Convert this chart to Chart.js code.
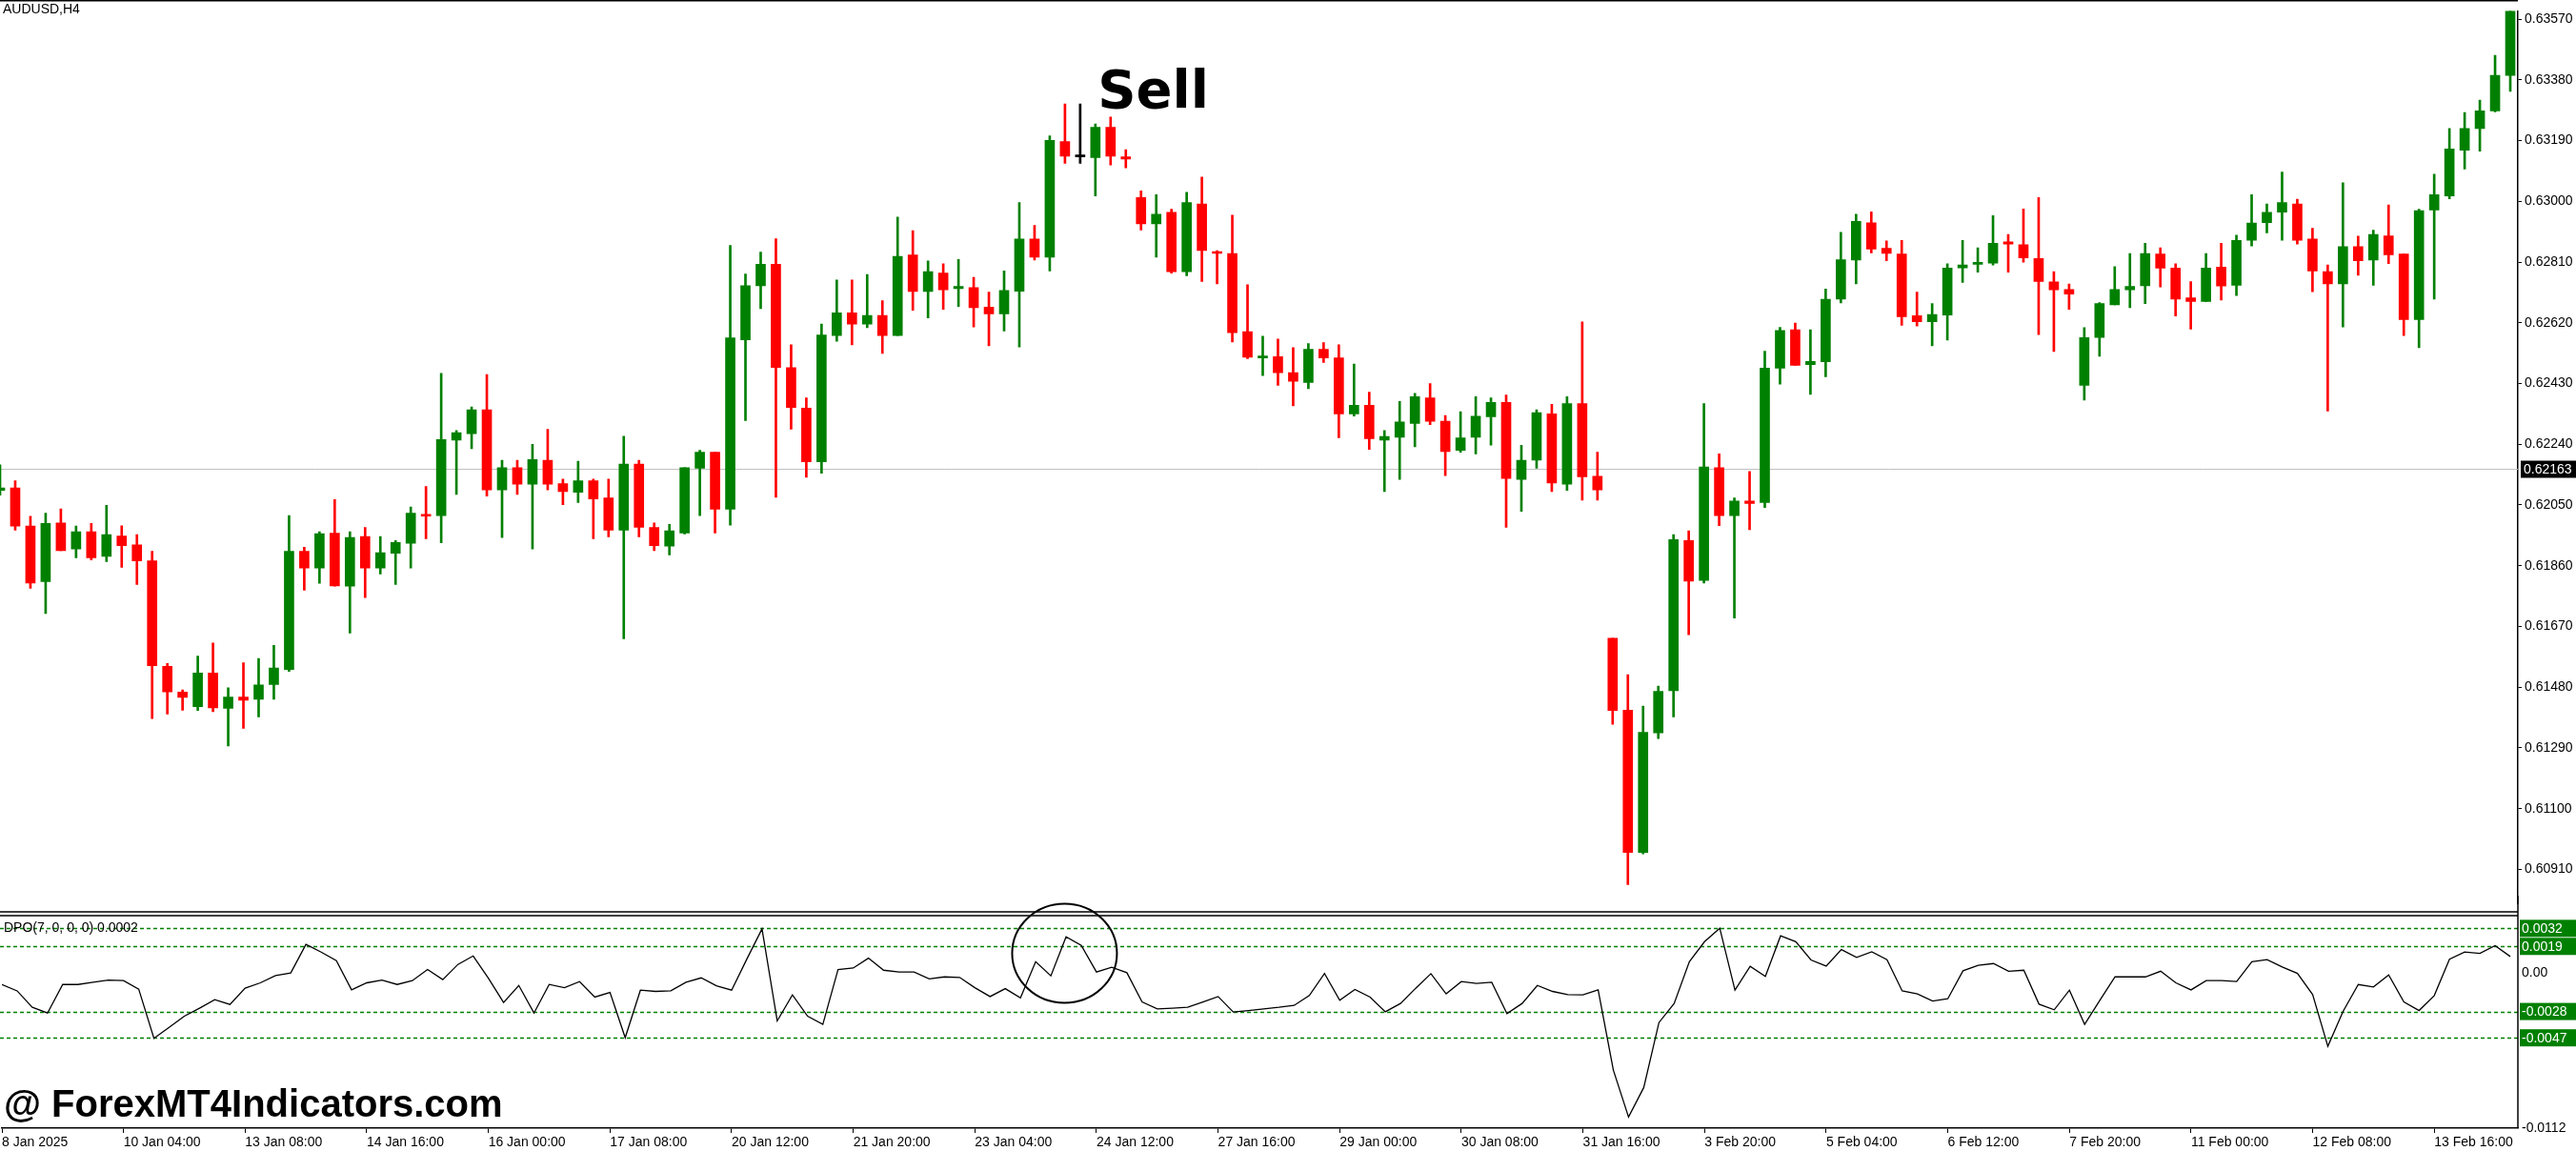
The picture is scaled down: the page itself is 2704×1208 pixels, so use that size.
<!DOCTYPE html>
<html><head><meta charset="utf-8">
<script src="https://cdn.jsdelivr.net/npm/chart.js@4/dist/chart.umd.min.js"></script>
<style>
html,body{margin:0;padding:0;background:#fff;width:2704px;height:1208px;overflow:hidden}
#p{position:absolute;left:0;top:0;width:2704px;height:960px}
#d{position:absolute;left:0;top:940px;width:2704px;height:268px}
</style></head><body>
<div id="p"><canvas id="cp"></canvas></div>
<div id="d"><canvas id="cd"></canvas></div>
<script>
const opens=[0.62096,0.62103,0.61984,0.61810,0.61994,0.61912,0.61966,0.61889,0.61953,0.61925,0.61875,0.61545,0.61465,0.61419,0.61524,0.61414,0.61449,0.61442,0.61488,0.61535,0.61905,0.61853,0.61962,0.61796,0.61951,0.61853,0.61899,0.61930,0.62021,0.62017,0.62253,0.62273,0.62348,0.62097,0.62167,0.62115,0.62190,0.62117,0.62090,0.62126,0.62072,0.61971,0.62178,0.61980,0.61921,0.61962,0.62165,0.62215,0.62037,0.62567,0.62736,0.62803,0.62480,0.62353,0.62185,0.62580,0.62651,0.62616,0.62643,0.62580,0.62832,0.62718,0.62776,0.62727,0.62730,0.62669,0.62648,0.62719,0.62882,0.62825,0.63187,0.63139,0.63137,0.63232,0.63139,0.63012,0.62930,0.62966,0.62780,0.62992,0.62843,0.62837,0.62592,0.62510,0.62514,0.62464,0.62433,0.62537,0.62510,0.62335,0.62362,0.62253,0.62262,0.62305,0.62385,0.62312,0.62221,0.62262,0.62326,0.62371,0.62130,0.62190,0.62335,0.62115,0.62367,0.62140,0.61633,0.61408,0.60963,0.61337,0.61469,0.61939,0.61814,0.62167,0.62017,0.62062,0.62058,0.62478,0.62598,0.62489,0.62498,0.62694,0.62816,0.62933,0.62853,0.62835,0.62642,0.62623,0.62644,0.62792,0.62803,0.62807,0.62873,0.62864,0.62821,0.62748,0.62724,0.62424,0.62574,0.62676,0.62723,0.62736,0.62835,0.62791,0.62698,0.62687,0.62794,0.62737,0.62878,0.62933,0.62966,0.62992,0.62882,0.62780,0.62742,0.62858,0.62816,0.62892,0.62835,0.62630,0.62973,0.63017,0.63160,0.63228,0.63283,0.63394];
const highs=[0.62176,0.62126,0.62015,0.62024,0.62038,0.61984,0.61992,0.62049,0.61985,0.61957,0.61905,0.61554,0.61471,0.61577,0.61618,0.61478,0.61556,0.61570,0.61611,0.62017,0.61918,0.61966,0.62067,0.61966,0.61980,0.61951,0.61939,0.62044,0.62108,0.62462,0.62283,0.62357,0.62458,0.62190,0.62190,0.62240,0.62287,0.62131,0.62187,0.62131,0.62131,0.62265,0.62190,0.61994,0.61989,0.62167,0.62221,0.62215,0.62862,0.62773,0.62841,0.62883,0.62551,0.62385,0.62616,0.62754,0.62754,0.62771,0.62689,0.62951,0.62908,0.62814,0.62805,0.62818,0.62762,0.62716,0.62782,0.62996,0.62925,0.63205,0.63305,0.63305,0.63242,0.63264,0.63162,0.63033,0.63021,0.62975,0.63028,0.63076,0.62846,0.62957,0.62739,0.62578,0.62569,0.62542,0.62555,0.62558,0.62551,0.62491,0.62403,0.62283,0.62374,0.62399,0.62430,0.62330,0.62342,0.62389,0.62385,0.62394,0.62237,0.62348,0.62365,0.62389,0.62623,0.62215,0.61633,0.61519,0.61421,0.61483,0.61957,0.61969,0.62367,0.62210,0.62072,0.62155,0.62531,0.62606,0.62619,0.62598,0.62726,0.62903,0.62960,0.62967,0.62876,0.62878,0.62716,0.62680,0.62805,0.62878,0.62855,0.62955,0.62896,0.62976,0.63012,0.62780,0.62741,0.62605,0.62683,0.62796,0.62837,0.62869,0.62855,0.62805,0.62749,0.62837,0.62869,0.62894,0.63021,0.62992,0.63092,0.63007,0.62916,0.62801,0.63058,0.62891,0.62910,0.62989,0.62835,0.62975,0.63085,0.63228,0.63278,0.63317,0.63457,0.63610];
const lows=[0.62081,0.61971,0.61789,0.61710,0.61907,0.61885,0.61878,0.61873,0.61855,0.61801,0.61382,0.61396,0.61408,0.61407,0.61403,0.61296,0.61351,0.61387,0.61442,0.61529,0.61783,0.61805,0.61796,0.61649,0.61760,0.61834,0.61801,0.61853,0.61944,0.61932,0.62083,0.62226,0.62078,0.61948,0.62083,0.61912,0.62097,0.62051,0.62058,0.61944,0.61950,0.61631,0.61950,0.61907,0.61894,0.61959,0.62017,0.61962,0.61987,0.62314,0.62664,0.62074,0.62287,0.62137,0.62149,0.62562,0.62551,0.62605,0.62524,0.62580,0.62659,0.62635,0.62662,0.62671,0.62607,0.62548,0.62594,0.62544,0.62816,0.62782,0.63119,0.63119,0.63017,0.63114,0.63105,0.62910,0.62825,0.62775,0.62767,0.62749,0.62742,0.62560,0.62508,0.62455,0.62424,0.62360,0.62414,0.62496,0.62260,0.62328,0.62224,0.62092,0.62130,0.62232,0.62301,0.62142,0.62215,0.62210,0.62237,0.61980,0.62030,0.62165,0.62092,0.62096,0.62065,0.62065,0.61364,0.60862,0.60958,0.61319,0.61387,0.61644,0.61806,0.61985,0.61696,0.61973,0.62042,0.62428,0.62487,0.62396,0.62451,0.62682,0.62742,0.62839,0.62814,0.62612,0.62610,0.62548,0.62566,0.62746,0.62778,0.62801,0.62778,0.62810,0.62583,0.62530,0.62662,0.62378,0.62515,0.62676,0.62667,0.62680,0.62732,0.62641,0.62600,0.62687,0.62691,0.62705,0.62860,0.62901,0.62878,0.62866,0.62717,0.62344,0.62607,0.62769,0.62737,0.62805,0.62580,0.62542,0.62694,0.63008,0.63101,0.63157,0.63280,0.63344];
const closes=[0.62103,0.61984,0.61806,0.61992,0.61907,0.61966,0.61885,0.61957,0.61923,0.61875,0.61547,0.61465,0.61448,0.61524,0.61415,0.61449,0.61439,0.61487,0.61540,0.61905,0.61853,0.61960,0.61797,0.61948,0.61853,0.61901,0.61933,0.62024,0.62015,0.62255,0.62276,0.62348,0.62097,0.62167,0.62115,0.62192,0.62115,0.62092,0.62126,0.62069,0.61971,0.62178,0.61980,0.61923,0.61969,0.62167,0.62215,0.62037,0.62573,0.62736,0.62803,0.62480,0.62355,0.62185,0.62582,0.62651,0.62616,0.62643,0.62580,0.62828,0.62718,0.62780,0.62723,0.62734,0.62667,0.62648,0.62721,0.62882,0.62825,0.63191,0.63141,0.63139,0.63232,0.63141,0.63132,0.62930,0.62960,0.62780,0.62996,0.62846,0.62837,0.62589,0.62512,0.62514,0.62464,0.62437,0.62537,0.62510,0.62335,0.62362,0.62257,0.62264,0.62310,0.62389,0.62312,0.62217,0.62260,0.62328,0.62371,0.62133,0.62190,0.62339,0.62119,0.62367,0.62138,0.62097,0.61407,0.60963,0.61339,0.61467,0.61942,0.61812,0.62169,0.62017,0.62062,0.62055,0.62478,0.62596,0.62487,0.62499,0.62694,0.62817,0.62937,0.62851,0.62837,0.62639,0.62623,0.62646,0.62791,0.62801,0.62808,0.62869,0.62866,0.62823,0.62749,0.62723,0.62710,0.62574,0.62680,0.62724,0.62734,0.62837,0.62791,0.62694,0.62687,0.62791,0.62735,0.62878,0.62932,0.62966,0.62996,0.62878,0.62782,0.62742,0.62858,0.62814,0.62896,0.62833,0.62630,0.62971,0.63021,0.63164,0.63228,0.63283,0.63394,0.63605];
const dpoValues=[-0.00085,-0.00131,-0.00250,-0.00291,-0.00085,-0.00085,-0.00069,-0.00053,-0.00057,-0.00119,-0.00474,-0.00394,-0.00314,-0.00256,-0.00195,-0.00229,-0.00112,-0.00073,-0.00021,-0.00002,0.00204,0.00149,0.00087,-0.00124,-0.00073,-0.00053,-0.00085,-0.00057,0.00023,-0.00050,0.00060,0.00121,-0.00039,-0.00215,-0.00092,-0.00291,-0.00085,-0.00108,-0.00064,-0.00176,-0.00142,-0.00469,-0.00126,-0.00135,-0.00131,-0.00069,-0.00037,-0.00094,-0.00126,0.00098,0.00316,-0.00348,-0.00160,-0.00314,-0.00373,0.00023,0.00034,0.00105,0.00018,0.00005,0.00005,-0.00044,-0.00030,-0.00034,-0.00108,-0.00172,-0.00115,-0.00181,0.00080,-0.00023,0.00259,0.00197,0.00005,0.00039,0.00000,-0.00211,-0.00261,-0.00256,-0.00250,-0.00211,-0.00172,-0.00284,-0.00273,-0.00261,-0.00250,-0.00236,-0.00165,-0.00005,-0.00199,-0.00121,-0.00176,-0.00282,-0.00222,-0.00112,-0.00007,-0.00153,-0.00064,-0.00078,-0.00069,-0.00295,-0.00222,-0.00092,-0.00135,-0.00158,-0.00160,-0.00124,-0.00703,-0.01042,-0.00829,-0.00360,-0.00222,0.00080,0.00224,0.00321,-0.00126,0.00046,-0.00027,0.00266,0.00224,0.00092,0.00048,0.00167,0.00110,0.00151,0.00094,-0.00131,-0.00153,-0.00204,-0.00188,0.00014,0.00053,0.00066,0.00011,0.00018,-0.00227,-0.00268,-0.00126,-0.00373,-0.00199,-0.00030,-0.00030,-0.00030,0.00011,-0.00073,-0.00124,-0.00057,-0.00057,-0.00064,0.00080,0.00094,0.00041,-0.00005,-0.00158,-0.00531,-0.00279,-0.00085,-0.00103,-0.00016,-0.00211,-0.00273,-0.00165,0.00098,0.00149,0.00140,0.00195,0.00117];
const timeLabels=["8 Jan 2025","10 Jan 04:00","13 Jan 08:00","14 Jan 16:00","16 Jan 00:00","17 Jan 08:00","20 Jan 12:00","21 Jan 20:00","23 Jan 04:00","24 Jan 12:00","27 Jan 16:00","29 Jan 00:00","30 Jan 08:00","31 Jan 16:00","3 Feb 20:00","5 Feb 04:00","6 Feb 12:00","7 Feb 20:00","11 Feb 00:00","12 Feb 08:00","13 Feb 16:00"];
const labelStep=8;
const priceTicks=[0.60910,0.61100,0.61290,0.61480,0.61670,0.61860,0.62050,0.62240,0.62430,0.62620,0.62810,0.63000,0.63190,0.63380,0.63570];
const currentPrice=0.62163;
const dpoLevels=[0.0032,0.0019,-0.0028,-0.0047];
const dpoScaleLabels=[0.00,-0.0112];
const sellIndex=75.8;

const GREEN='#008000',RED='#ff0000';
const colorOf=i=>opens[i]===closes[i]?'#000':(closes[i]>opens[i]?GREEN:RED);
const cols=opens.map((_,i)=>colorOf(i));
const FONT='"Liberation Sans", Arial, sans-serif';

const priceDecor={id:'pd',
 afterDraw(c){const g=c.ctx,a=c.chartArea,y=c.scales.y,x=c.scales.x;
  g.save();
  g.fillStyle='#000';g.font='14px '+FONT;g.textBaseline='top';g.fillText('AUDUSD,H4',3,3);
  g.strokeStyle='#000';g.lineWidth=1.5;g.beginPath();g.moveTo(0,0.75);g.lineTo(a.right,0.75);g.stroke();
  const cy=Math.round(y.getPixelForValue(currentPrice))+0.5;
  g.fillStyle='#000';g.fillRect(a.right+3,cy-9,58,18);
  g.fillStyle='#fff';g.textBaseline='middle';g.font='14px '+FONT;g.fillText(currentPrice.toFixed(5),a.right+6,cy+1);
  g.fillStyle='#000';g.font='bold 56px "DejaVu Sans", Arial, sans-serif';g.textAlign='center';g.textBaseline='alphabetic';
  g.fillText('Sell',x.getPixelForValue(sellIndex),113);
  g.restore();},
 beforeDatasetsDraw(c){const g=c.ctx,a=c.chartArea,y=c.scales.y;const cy=Math.round(y.getPixelForValue(currentPrice))+0.5;
  g.save();g.strokeStyle='#c0c0c0';g.lineWidth=1;g.beginPath();g.moveTo(0,cy);g.lineTo(a.right,cy);g.stroke();g.restore();}
};

new Chart(document.getElementById('cp'),{
 type:'bar',
 data:{datasets:[
  {data:opens.map((o,i)=>({x:i,y:[lows[i],highs[i]]})),backgroundColor:cols,barThickness:2,grouped:false,order:2},
  {data:opens.map((o,i)=>({x:i,y:[o,closes[i]]})),backgroundColor:cols,barThickness:10,minBarLength:2,grouped:false,order:1}
 ]},
 options:{responsive:true,maintainAspectRatio:false,devicePixelRatio:1,animation:false,
  layout:{padding:0},
  plugins:{legend:{display:false},tooltip:{enabled:false}},
  scales:{
   x:{type:'linear',min:0,max:165.5,offset:false,bounds:'ticks',display:false},
   y:{position:'right',min:0.60802,max:0.63596,
    afterFit(s){s.width=61;},
    afterBuildTicks(s){s.ticks=priceTicks.map(v=>({value:v}));},
    ticks:{callback:v=>v.toFixed(5),color:'#000',font:{family:FONT,size:14},padding:3,autoSkip:false},
    grid:{drawOnChartArea:false,color:'#000',tickLength:4},
    border:{color:'#000',width:1.5}}
  }},
 plugins:[priceDecor]
});

const dpoDecor={id:'dd',
 beforeDatasetsDraw(c){const g=c.ctx,a=c.chartArea,y=c.scales.y;
  g.save();g.strokeStyle='#008000';g.lineWidth=1.5;g.setLineDash([4,3]);
  dpoLevels.forEach(v=>{const py=Math.round(y.getPixelForValue(v))+0.5;g.beginPath();g.moveTo(0,py);g.lineTo(a.right,py);g.stroke();});
  g.restore();},
 afterDraw(c){const g=c.ctx,a=c.chartArea,y=c.scales.y,x=c.scales.x;
  g.save();
  g.strokeStyle='#000';g.lineWidth=1.5;
  g.beginPath();g.moveTo(0,a.top-5);g.lineTo(a.right,a.top-5);g.moveTo(0,a.top-1);g.lineTo(a.right,a.top-1);g.stroke();
  g.beginPath();g.moveTo(a.right,0);g.lineTo(a.right,a.bottom);g.stroke();
  g.fillStyle='#000';g.font='14px '+FONT;g.textBaseline='middle';
  g.fillText('DPO(7, 0, 0, 0) 0.0002',4,a.top+12);
  g.font='14px '+FONT;
  dpoLevels.forEach(v=>{const py=y.getPixelForValue(v);g.fillStyle='#008000';g.fillRect(a.right+2,py-9,59,18);g.fillStyle='#fff';g.fillText(v.toFixed(4),a.right+4,py+1);});
  g.fillStyle='#000';
  dpoScaleLabels.forEach(v=>{const py=y.getPixelForValue(v);g.fillText(v===0?'0.00':v.toFixed(4),a.right+4,py);});
  g.lineWidth=2;g.beginPath();g.ellipse(x.getPixelForValue(69.9),y.getPixelForValue(0.0014),55,52,0,0,Math.PI*2);g.stroke();
  g.font='bold 40px '+FONT;g.textBaseline='alphabetic';g.fillText('@ ForexMT4Indicators.com',4,a.bottom-12);
  g.restore();}
};

new Chart(document.getElementById('cd'),{
 type:'line',
 data:{datasets:[{data:dpoValues.map((v,i)=>({x:i,y:v})),borderColor:'#000',borderWidth:1.3,pointRadius:0,tension:0}]},
 options:{responsive:true,maintainAspectRatio:false,devicePixelRatio:1,animation:false,
  layout:{padding:{top:22,right:61,left:0,bottom:0}},
  plugins:{legend:{display:false},tooltip:{enabled:false}},
  scales:{
   x:{type:'linear',min:0,max:165.5,
    afterFit(s){s.height=24;},
    afterBuildTicks(s){s.ticks=timeLabels.map((t,k)=>({value:k*labelStep}));},
    ticks:{callback:(v)=>timeLabels[v/labelStep],align:'start',maxRotation:0,autoSkip:false,color:'#000',font:{family:FONT,size:14},padding:2},
    grid:{drawOnChartArea:false,color:'#000',tickLength:5},
    border:{color:'#000',width:1.5}},
   y:{min:-0.01122,max:0.00405,display:false}
  }},
 plugins:[dpoDecor]
});
</script></body></html>
